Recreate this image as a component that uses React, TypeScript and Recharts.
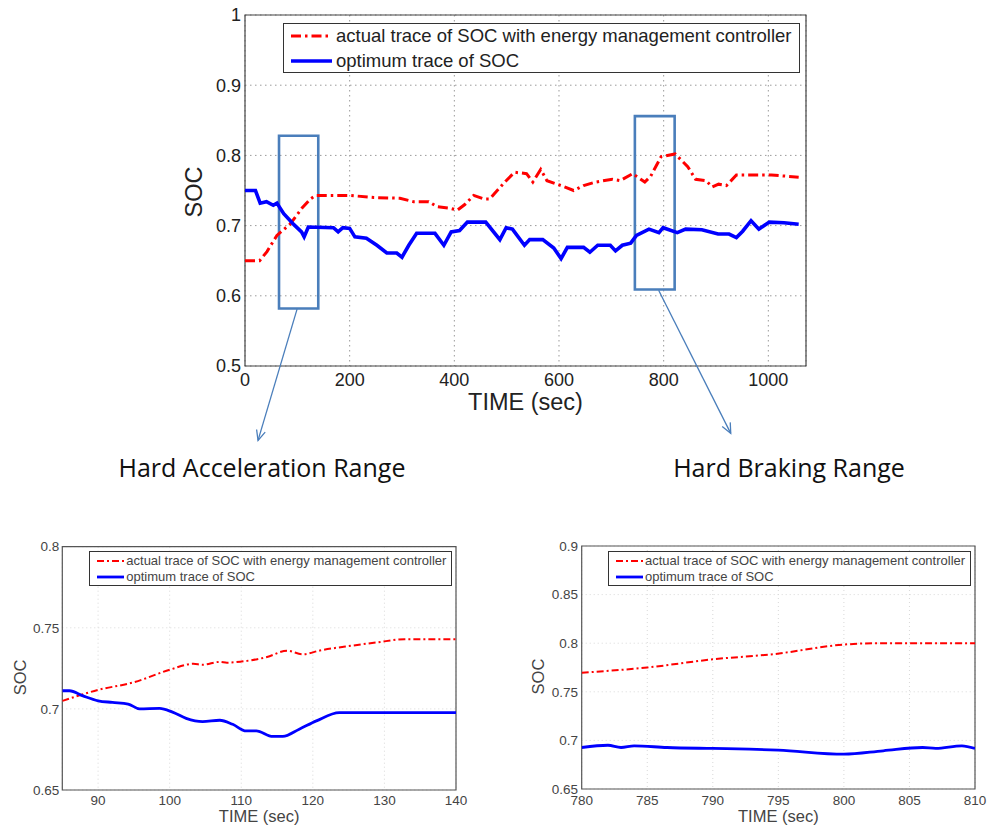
import React from 'react';
import {
  LineChart,
  Line,
  XAxis,
  YAxis,
  CartesianGrid,
  ReferenceArea,
  ReferenceLine,
  Legend,
} from 'recharts';

type Pt = { t: number; soc: number };

const actualLabel = 'actual trace of SOC with energy management controller';
const optimumLabel = 'optimum trace of SOC';

// ---- full drive cycle (top panel) ----
const fullActual: Pt[] = [
  { t: 0, soc: 0.65 }, { t: 28, soc: 0.65 }, { t: 42, soc: 0.663 }, { t: 61, soc: 0.686 },
  { t: 86, soc: 0.702 }, { t: 109, soc: 0.725 }, { t: 125, soc: 0.738 }, { t: 135, soc: 0.743 },
  { t: 200, soc: 0.743 }, { t: 246, soc: 0.74 }, { t: 296, soc: 0.739 }, { t: 322, soc: 0.734 },
  { t: 351, soc: 0.734 }, { t: 367, soc: 0.727 }, { t: 390, soc: 0.725 }, { t: 406, soc: 0.722 },
  { t: 420, soc: 0.73 }, { t: 437, soc: 0.743 }, { t: 456, soc: 0.738 }, { t: 468, soc: 0.738 },
  { t: 476, soc: 0.745 }, { t: 499, soc: 0.764 }, { t: 515, soc: 0.776 }, { t: 538, soc: 0.774 },
  { t: 550, soc: 0.762 }, { t: 565, soc: 0.78 }, { t: 577, soc: 0.764 }, { t: 604, soc: 0.757 },
  { t: 628, soc: 0.75 }, { t: 647, soc: 0.757 }, { t: 670, soc: 0.762 }, { t: 702, soc: 0.766 },
  { t: 717, soc: 0.764 }, { t: 741, soc: 0.774 }, { t: 764, soc: 0.762 }, { t: 775, soc: 0.77 },
  { t: 795, soc: 0.798 }, { t: 822, soc: 0.802 }, { t: 846, soc: 0.784 }, { t: 861, soc: 0.766 },
  { t: 881, soc: 0.764 }, { t: 893, soc: 0.755 }, { t: 905, soc: 0.759 }, { t: 920, soc: 0.757 },
  { t: 939, soc: 0.772 }, { t: 1006, soc: 0.772 }, { t: 1058, soc: 0.769 },
];

const fullOptimum: Pt[] = [
  { t: 0, soc: 0.75 }, { t: 20, soc: 0.75 }, { t: 29, soc: 0.732 }, { t: 41, soc: 0.734 },
  { t: 54, soc: 0.729 }, { t: 61, soc: 0.732 }, { t: 74, soc: 0.717 }, { t: 94, soc: 0.701 },
  { t: 108, soc: 0.691 }, { t: 113, soc: 0.684 }, { t: 121, soc: 0.698 }, { t: 169, soc: 0.697 },
  { t: 178, soc: 0.691 }, { t: 187, soc: 0.697 }, { t: 200, soc: 0.696 }, { t: 210, soc: 0.684 },
  { t: 232, soc: 0.682 }, { t: 252, soc: 0.672 }, { t: 271, soc: 0.661 }, { t: 290, soc: 0.661 },
  { t: 300, soc: 0.655 }, { t: 313, soc: 0.672 }, { t: 328, soc: 0.689 }, { t: 363, soc: 0.689 },
  { t: 380, soc: 0.672 }, { t: 394, soc: 0.691 }, { t: 410, soc: 0.693 }, { t: 425, soc: 0.705 },
  { t: 460, soc: 0.705 }, { t: 487, soc: 0.68 }, { t: 499, soc: 0.697 }, { t: 511, soc: 0.695 },
  { t: 534, soc: 0.672 }, { t: 544, soc: 0.68 }, { t: 569, soc: 0.68 }, { t: 590, soc: 0.668 },
  { t: 604, soc: 0.653 }, { t: 616, soc: 0.669 }, { t: 647, soc: 0.669 }, { t: 659, soc: 0.662 },
  { t: 674, soc: 0.672 }, { t: 698, soc: 0.672 }, { t: 708, soc: 0.664 }, { t: 721, soc: 0.672 },
  { t: 737, soc: 0.675 }, { t: 748, soc: 0.686 }, { t: 772, soc: 0.695 }, { t: 791, soc: 0.69 },
  { t: 799, soc: 0.697 }, { t: 826, soc: 0.69 }, { t: 842, soc: 0.695 }, { t: 873, soc: 0.694 },
  { t: 904, soc: 0.688 }, { t: 925, soc: 0.688 }, { t: 939, soc: 0.683 }, { t: 951, soc: 0.692 },
  { t: 967, soc: 0.707 }, { t: 982, soc: 0.695 }, { t: 1002, soc: 0.705 }, { t: 1030, soc: 0.704 },
  { t: 1058, soc: 0.702 },
];

const fullTimeTicks = [0, 200, 400, 600, 800, 1000];
const fullSocTicks = [0.5, 0.6, 0.7, 0.8, 0.9, 1];
const fullTimeDomain: [number, number] = [0, 1072];
const fullSocDomain: [number, number] = [0.5, 1];

// ---- hard acceleration range (bottom left) ----
const accelActual: Pt[] = [
  { t: 85, soc: 0.7049 }, { t: 90, soc: 0.7117 }, { t: 95, soc: 0.7164 }, { t: 100, soc: 0.7241 },
  { t: 103.3, soc: 0.7278 }, { t: 104.6, soc: 0.7272 }, { t: 107, soc: 0.729 }, { t: 108, soc: 0.7285 },
  { t: 110, soc: 0.7292 }, { t: 113.6, soc: 0.732 }, { t: 116.4, soc: 0.7359 }, { t: 118.6, soc: 0.7337 },
  { t: 121, soc: 0.736 }, { t: 125.3, soc: 0.7389 }, { t: 129, soc: 0.741 }, { t: 132.8, soc: 0.743 },
  { t: 140, soc: 0.743 },
];
const accelOptimum: Pt[] = [
  { t: 85, soc: 0.7112 }, { t: 86, soc: 0.7112 }, { t: 87.9, soc: 0.708 }, { t: 90, soc: 0.705 },
  { t: 92, soc: 0.704 }, { t: 94.2, soc: 0.703 }, { t: 95.8, soc: 0.7 }, { t: 98.6, soc: 0.7003 },
  { t: 100.4, soc: 0.698 }, { t: 102.3, soc: 0.6942 }, { t: 104.6, soc: 0.6922 }, { t: 107, soc: 0.693 },
  { t: 108.8, soc: 0.6905 }, { t: 110.7, soc: 0.6864 }, { t: 112.1, soc: 0.6864 }, { t: 114.4, soc: 0.683 },
  { t: 115.8, soc: 0.683 }, { t: 118.1, soc: 0.6875 }, { t: 120.5, soc: 0.6926 }, { t: 123.7, soc: 0.6977 },
  { t: 140, soc: 0.6977 },
];
const accelTimeTicks = [90, 100, 110, 120, 130, 140];
const accelSocTicks = [0.65, 0.7, 0.75, 0.8];
const accelTimeDomain: [number, number] = [85, 140];
const accelSocDomain: [number, number] = [0.65, 0.8];

// ---- hard braking range (bottom right) ----
const brakeActual: Pt[] = [
  { t: 780, soc: 0.7696 }, { t: 785, soc: 0.775 }, { t: 790, soc: 0.7834 }, { t: 794.8, soc: 0.789 },
  { t: 799.9, soc: 0.7985 }, { t: 802.7, soc: 0.8 }, { t: 810, soc: 0.8 },
];
const brakeOptimum: Pt[] = [
  { t: 780, soc: 0.6927 }, { t: 782, soc: 0.695 }, { t: 783, soc: 0.6927 }, { t: 784, soc: 0.6944 },
  { t: 786.5, soc: 0.6927 }, { t: 790, soc: 0.6917 }, { t: 792.8, soc: 0.691 }, { t: 795, soc: 0.69 },
  { t: 800, soc: 0.6858 }, { t: 803, soc: 0.6893 }, { t: 806, soc: 0.6927 }, { t: 807, soc: 0.6917 },
  { t: 809, soc: 0.6944 }, { t: 810, soc: 0.6917 },
];
const brakeTimeTicks = [780, 785, 790, 795, 800, 805, 810];
const brakeSocTicks = [0.65, 0.7, 0.75, 0.8, 0.85, 0.9];
const brakeTimeDomain: [number, number] = [780, 810];
const brakeSocDomain: [number, number] = [0.65, 0.9];

// ---- annotation windows on the top panel (data units) ----
const accelWindow = { t1: 65, t2: 140, s1: 0.582, s2: 0.828 };
const brakeWindow = { t1: 745, t2: 821, s1: 0.609, s2: 0.856 };
const accelArrow = [{ x: 99.5, y: 0.581 }, { x: 24.9, y: 0.394 }];
const brakeArrow = [{ x: 790.4, y: 0.608 }, { x: 928.2, y: 0.404 }];
const rangeTitles = ['Hard Acceleration Range', 'Hard Braking Range'];

const FONT = '"Liberation Sans", Arial, Helvetica, sans-serif';
const RED = '#ff0000';
const BLUE = '#0000ff';
const ANNOT = '#4a7ebb';

const ArrowShape = (p: any) => {
  const { x1, y1, x2, y2 } = p;
  const ang = Math.atan2(y2 - y1, x2 - x1);
  const L = 11;
  const w = 0.42;
  const ax = x2 - L * Math.cos(ang - w);
  const ay = y2 - L * Math.sin(ang - w);
  const bx = x2 - L * Math.cos(ang + w);
  const by = y2 - L * Math.sin(ang + w);
  return (
    <g>
      <line x1={x1} y1={y1} x2={x2} y2={y2} stroke={ANNOT} strokeWidth={1.3} />
      <polyline points={`${ax},${ay} ${x2},${y2} ${bx},${by}`} fill="none" stroke={ANNOT} strokeWidth={1.3} />
    </g>
  );
};

interface LegendBox {
  left: number; top: number; width: number; height: number;
  sampleLeft: number; sampleWidth: number; textLeft: number;
  row1: number; row2: number; fontSize: number;
  redWidth: number; blueWidth: number; dash: string;
}

const makeLegend = (b: LegendBox, color: string) => (props: any) => {
  const payload = props.payload || [];
  const rows = [b.row1, b.row2];
  return (
    <div
      style={{
        position: 'relative', width: b.width, height: b.height, boxSizing: 'border-box',
        border: '1px solid #333', background: '#fff', fontFamily: FONT,
      }}
    >
      {payload.map((e: any, i: number) => {
        const isActual = e.value === actualLabel;
        return (
          <div key={i} style={{ position: 'absolute', left: 0, top: rows[i] - 10, height: 20, width: '100%' }}>
            <svg width={b.sampleWidth} height={20} style={{ position: 'absolute', left: b.sampleLeft, top: 0 }}>
              <line
                x1={0} y1={10} x2={b.sampleWidth} y2={10}
                stroke={e.color}
                strokeWidth={isActual ? b.redWidth : b.blueWidth}
                strokeDasharray={isActual ? b.dash : undefined}
              />
            </svg>
            <span
              style={{
                position: 'absolute', left: b.textLeft, top: 0, lineHeight: '20px',
                fontSize: b.fontSize, color, whiteSpace: 'nowrap',
              }}
            >
              {e.value}
            </span>
          </div>
        );
      })}
    </div>
  );
};

interface PanelProps {
  left: number; top: number; width: number; height: number;
  margin: { top: number; right: number; bottom: number; left: number };
  yAxisWidth: number; xAxisHeight: number;
  xDomain: [number, number]; yDomain: [number, number];
  xTicks: number[]; yTicks: number[];
  actual: Pt[]; optimum: Pt[];
  tickFont: number; titleFont: number; textColor: string;
  xTickMargin: number; yTickMargin: number;
  socDx: number; socDy: number; timeDy: number;
  gridColor: string; gridDash: string; frameColor: string;
  redWidth: number; blueWidth: number; dash: string; curve: 'linear' | 'monotone';
  legend: LegendBox;
  extras?: React.ReactNode;
}

function Panel(p: PanelProps) {
  return (
    <div style={{ position: 'absolute', left: p.left, top: p.top, width: p.width, height: p.height }}>
      <LineChart width={p.width} height={p.height} margin={p.margin} style={{ fontFamily: FONT }}>
        <CartesianGrid stroke={p.gridColor} strokeDasharray={p.gridDash} strokeWidth={1} />
        <XAxis
          type="number" dataKey="t" domain={p.xDomain} ticks={p.xTicks} interval={0}
          height={p.xAxisHeight} axisLine={false} tickLine={false} tickSize={0}
          tickMargin={p.xTickMargin} allowDataOverflow
          tick={{ fill: p.textColor, fontSize: p.tickFont, fontFamily: FONT }}
          label={(lp: any) => {
            const vb = lp.viewBox || {};
            return (
              <text
                x={vb.x + vb.width / 2} y={vb.y + p.timeDy} textAnchor="middle" dominantBaseline="central"
                fill={p.textColor} fontSize={p.titleFont} fontFamily={FONT}
              >
                TIME (sec)
              </text>
            );
          }}
        />
        <YAxis
          type="number" domain={p.yDomain} ticks={p.yTicks} interval={0}
          width={p.yAxisWidth} axisLine={false} tickLine={false} tickSize={0}
          tickMargin={p.yTickMargin} allowDataOverflow
          tick={{ fill: p.textColor, fontSize: p.tickFont, fontFamily: FONT }}
          label={(lp: any) => {
            const vb = lp.viewBox || {};
            const x = vb.x + p.socDx;
            const y = vb.y + vb.height / 2 + p.socDy;
            return (
              <text
                x={x} y={y} transform={`rotate(-90 ${x} ${y})`} textAnchor="middle" dominantBaseline="central"
                fill={p.textColor} fontSize={p.titleFont} fontFamily={FONT}
              >
                SOC
              </text>
            );
          }}
        />
        <ReferenceArea
          x1={p.xDomain[0]} x2={p.xDomain[1]} y1={p.yDomain[0]} y2={p.yDomain[1]}
          fill="none" fillOpacity={0} stroke={p.frameColor} strokeWidth={1.2} ifOverflow="visible"
        />
        <Line
          data={p.actual} dataKey="soc" name={actualLabel} type={p.curve}
          stroke={RED} strokeWidth={p.redWidth} strokeDasharray={p.dash}
          dot={false} activeDot={false} isAnimationActive={false}
        />
        <Line
          data={p.optimum} dataKey="soc" name={optimumLabel} type={p.curve}
          stroke={BLUE} strokeWidth={p.blueWidth}
          dot={false} activeDot={false} isAnimationActive={false}
        />
        {p.extras}
        <Legend
          layout="vertical" verticalAlign="middle" align="center"
          wrapperStyle={{ left: p.legend.left, top: p.legend.top, width: p.legend.width, height: p.legend.height }}
          content={makeLegend(p.legend, p.textColor)}
        />
      </LineChart>
    </div>
  );
}

export default function App() {
  return (
    <div style={{ position: 'absolute', left: 0, top: 0, width: 992, height: 829, background: '#fff', overflow: 'hidden' }}>
      <Panel
        left={160} top={0} width={660} height={450}
        margin={{ top: 15, right: 14, bottom: 30, left: 25 }}
        yAxisWidth={60} xAxisHeight={54}
        xDomain={fullTimeDomain} yDomain={fullSocDomain}
        xTicks={fullTimeTicks} yTicks={fullSocTicks}
        actual={fullActual} optimum={fullOptimum}
        tickFont={18} titleFont={23.5} textColor="#222"
        xTickMargin={7} yTickMargin={4}
        socDx={9} socDy={1.5} timeDy={36}
        gridColor="#9a9a9a" gridDash="1.5 3.5" frameColor="#444"
        redWidth={3} blueWidth={3.6} dash="10 4 2.5 4" curve="linear"
        legend={{
          left: 123, top: 23, width: 517, height: 50,
          sampleLeft: 7, sampleWidth: 41, textLeft: 52,
          row1: 12, row2: 37, fontSize: 18.5,
          redWidth: 3, blueWidth: 3.6, dash: '10 4 2.5 4',
        }}
        extras={
          <>
            <ReferenceArea
              x1={accelWindow.t1} x2={accelWindow.t2} y1={accelWindow.s1} y2={accelWindow.s2}
              fill="none" fillOpacity={0} stroke={ANNOT} strokeWidth={2.6} ifOverflow="visible"
            />
            <ReferenceArea
              x1={brakeWindow.t1} x2={brakeWindow.t2} y1={brakeWindow.s1} y2={brakeWindow.s2}
              fill="none" fillOpacity={0} stroke={ANNOT} strokeWidth={2.6} ifOverflow="visible"
            />
            <ReferenceLine segment={accelArrow} ifOverflow="visible" stroke={ANNOT} shape={ArrowShape} />
            <ReferenceLine segment={brakeArrow} ifOverflow="visible" stroke={ANNOT} shape={ArrowShape} />
          </>
        }
      />

      <div
        style={{
          position: 'absolute', left: 62, top: 451, width: 400, textAlign: 'center',
          fontFamily: '"Open Sans", sans-serif', fontSize: 25, lineHeight: '32px', color: '#111',
        }}
      >
        {rangeTitles[0]}
      </div>
      <div
        style={{
          position: 'absolute', left: 589, top: 451, width: 400, textAlign: 'center',
          fontFamily: '"Open Sans", sans-serif', fontSize: 25, lineHeight: '32px', color: '#111',
        }}
      >
        {rangeTitles[1]}
      </div>

      <Panel
        left={0} top={520} width={470} height={309}
        margin={{ top: 26.7, right: 14, bottom: 0, left: 12.3 }}
        yAxisWidth={50} xAxisHeight={39}
        xDomain={accelTimeDomain} yDomain={accelSocDomain}
        xTicks={accelTimeTicks} yTicks={accelSocTicks}
        actual={accelActual} optimum={accelOptimum}
        tickFont={13.5} titleFont={16.5} textColor="#444"
        xTickMargin={5} yTickMargin={3}
        socDx={8} socDy={9} timeDy={26}
        gridColor="#d8d8d8" gridDash="1 3" frameColor="#555"
        redWidth={2} blueWidth={2.8} dash="7 3 2 3" curve="monotone"
        legend={{
          left: 89.3, top: 30.7, width: 363, height: 35,
          sampleLeft: 7, sampleWidth: 27, textLeft: 36,
          row1: 9.5, row2: 25, fontSize: 13,
          redWidth: 2, blueWidth: 2.8, dash: '7 3 2 3',
        }}
      />

      <Panel
        left={500} top={520} width={490} height={309}
        margin={{ top: 26, right: 15, bottom: 0, left: 31.7 }}
        yAxisWidth={50} xAxisHeight={40}
        xDomain={brakeTimeDomain} yDomain={brakeSocDomain}
        xTicks={brakeTimeTicks} yTicks={brakeSocTicks}
        actual={brakeActual} optimum={brakeOptimum}
        tickFont={13.5} titleFont={16.5} textColor="#444"
        xTickMargin={6} yTickMargin={3.7}
        socDx={6.3} socDy={9} timeDy={27}
        gridColor="#d8d8d8" gridDash="1 3" frameColor="#555"
        redWidth={2} blueWidth={2.8} dash="7 3 2 3" curve="monotone"
        legend={{
          left: 108, top: 30.7, width: 363, height: 35,
          sampleLeft: 7, sampleWidth: 27, textLeft: 36,
          row1: 9.5, row2: 25, fontSize: 13,
          redWidth: 2, blueWidth: 2.8, dash: '7 3 2 3',
        }}
      />
    </div>
  );
}
